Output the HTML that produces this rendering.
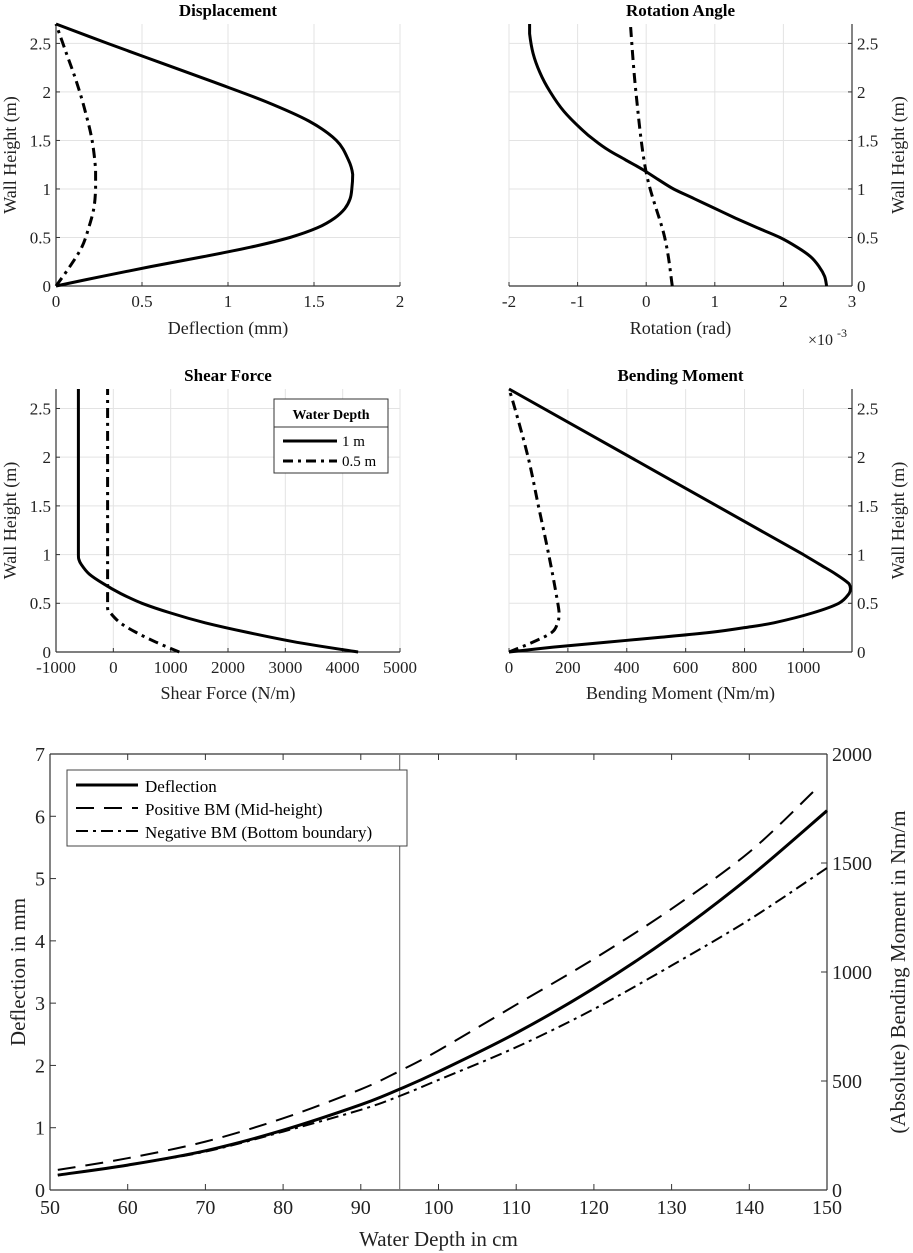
<!DOCTYPE html>
<html><head><meta charset="utf-8">
<style>
body{margin:0;background:#fff;}
svg{display:block;font-family:"Liberation Serif",serif;}
</style></head>
<body>
<svg id="fig" width="913" height="1253" xmlns="http://www.w3.org/2000/svg"></svg>
<script>
// ---- data ----
const dispH = [0,0.1,0.2,0.3,0.4,0.5,0.6,0.7,0.8,0.9,1.0,1.15,1.3,1.5,1.7,1.9,2.1,2.3,2.5,2.7];
const dispD1 = [0,0.27,0.55,0.85,1.13,1.36,1.52,1.62,1.68,1.71,1.72,1.725,1.70,1.63,1.47,1.22,0.92,0.61,0.30,0];
const dispH2 = [0,0.2,0.4,0.6,0.8,1.0,1.2,1.5,1.8,2.1,2.4,2.7];
const dispD2 = [0,0.08,0.15,0.19,0.22,0.23,0.23,0.21,0.17,0.12,0.06,0];
const rotH = [0,0.1,0.2,0.3,0.4,0.5,0.6,0.7,0.8,0.9,1.0,1.1,1.2,1.3,1.4,1.5,1.6,1.8,2.0,2.2,2.4,2.6,2.7];
const rotR1 = [2.63,2.6,2.52,2.4,2.2,1.95,1.62,1.3,1.0,0.7,0.4,0.17,-0.05,-0.3,-0.55,-0.75,-0.92,-1.2,-1.4,-1.55,-1.65,-1.7,-1.7];
const rotH2 = [0,0.5,1.17,2.0,2.7];
const rotR2 = [0.38,0.27,0.0,-0.15,-0.23];
const shH = [0,0.1,0.2,0.3,0.4,0.5,0.6,0.7,0.8,0.9,0.95,1.0,2.7];
const shV1 = [4270,3200,2350,1600,1000,500,130,-170,-420,-560,-600,-610,-610];
const shH2 = [0,0.1,0.2,0.3,0.4,0.45,2.7];
const shV2 = [1150,750,400,120,-50,-100,-100];
const bmH = [0,0.05,0.1,0.15,0.2,0.25,0.3,0.4,0.5,0.6,0.65,0.7,0.8,0.9,1.0,2.7];
const bmV1 = [0,150,330,510,680,800,900,1030,1120,1155,1160,1155,1110,1055,1000,0];
const bmH2 = [0,0.1,0.2,0.3,0.4,0.6,1.0,1.5,2.0,2.5,2.7];
const bmV2 = [0,80,145,165,170,160,135,100,65,20,0];
const depth = [51,60,70,80,90,95,100,110,120,130,140,150];
const deflection = [0.24,0.40,0.63,0.96,1.37,1.62,1.9,2.52,3.24,4.07,5.02,6.09];
const depthBM = [51,60,70,80,90,95,100,110,120,130,140,148.5];
const posBM = [92,146,222,329,462,546,640,850,1060,1290,1550,1836];
const depthNBM = [51,60,70,80,90,95,100,110,120,130,140,150];
const negBM = [69,115,176,268,368,431,505,655,830,1030,1240,1477];
const hTicks = [0,0.5,1,1.5,2,2.5];

const NS='http://www.w3.org/2000/svg';
const svg=document.getElementById('fig');
function el(tag,attrs,parent){const e=document.createElementNS(NS,tag);for(const k in attrs)e.setAttribute(k,attrs[k]);(parent||svg).appendChild(e);return e;}
function txt(s,x,y,attrs,parent){const t=el('text',Object.assign({x:x,y:y},attrs),parent);t.textContent=s;return t;}
function scale(d0,d1,r0,r1){return v=>r0+(v-d0)/(d1-d0)*(r1-r0);}
const DASHDOT='10,5,3,5';

function panel(o){
  const g=el('g',{});
  
  
  const X=scale(o.xmin,o.xmax,o.L,o.R), Y=scale(o.ymin,o.ymax,o.B,o.T);
  if(o.grid){
    o.xt.forEach(v=>el('line',{x1:X(v),x2:X(v),y1:o.T,y2:o.B,stroke:'#e3e3e3','stroke-width':1},g));
    o.yt.forEach(v=>el('line',{x1:o.L,x2:o.R,y1:Y(v),y2:Y(v),stroke:'#e3e3e3','stroke-width':1},g));
  }
  const ax='#333';
  el('line',{x1:o.L,x2:o.R,y1:o.B,y2:o.B,stroke:ax,'stroke-width':1.2},g);
  if(o.box){el('line',{x1:o.L,x2:o.R,y1:o.T,y2:o.T,stroke:ax,'stroke-width':1.2},g);}
  if(o.left||o.box)el('line',{x1:o.L,x2:o.L,y1:o.T,y2:o.B,stroke:ax,'stroke-width':1.2},g);
  if(o.right||o.box)el('line',{x1:o.R,x2:o.R,y1:o.T,y2:o.B,stroke:ax,'stroke-width':1.2},g);
  const tl=o.tickLen||4;
  o.xt.forEach((v,i)=>{
    el('line',{x1:X(v),x2:X(v),y1:o.B,y2:o.B-tl,stroke:ax},g);
    if(o.box)el('line',{x1:X(v),x2:X(v),y1:o.T,y2:o.T+tl,stroke:ax},g);
    const t=txt(o.xtl[i],X(v),o.B+o.fs+4,{'font-size':o.fs,'text-anchor':'middle',fill:'#222'},g);
    
    
  });
  const yside=o.right&&!o.box?'R':'L';
  o.yt.forEach((v,i)=>{
    if(yside==='L'){el('line',{x1:o.L,x2:o.L+tl,y1:Y(v),y2:Y(v),stroke:ax},g);}
    else{el('line',{x1:o.R,x2:o.R-tl,y1:Y(v),y2:Y(v),stroke:ax},g);}
    const t=yside==='L'?txt(o.ytl[i],o.L-5,Y(v)+o.fs*0.35,{'font-size':o.fs,'text-anchor':'end',fill:'#222'},g)
                       :txt(o.ytl[i],o.R+5,Y(v)+o.fs*0.35,{'font-size':o.fs,'text-anchor':'start',fill:'#222'},g);
    
    
  });
  if(o.title){const t=txt(o.title,(o.L+o.R)/2,o.T-8,{'font-size':17,'font-weight':'bold','text-anchor':'middle'},g);
    }
  if(o.xlabel){const t=txt(o.xlabel,(o.L+o.R)/2,o.xlY,{'font-size':o.lfs,'text-anchor':'middle',fill:'#222'},g);
    }
  if(o.ylabel){const cx=o.ylX,cy=(o.T+o.B)/2;const t=txt(o.ylabel,cx,cy,{'font-size':o.lfs,'text-anchor':'middle',fill:'#222',transform:`rotate(-90 ${cx} ${cy})`,'dominant-baseline':'middle'},g);
    }
  return {g,X,Y};
}
function clamp(v,a,b){const lo=Math.min(a,b),hi=Math.max(a,b);return Math.max(lo,Math.min(hi,v));}
function curve(p,xs,ys,dash,w,name,Yf){
  const Yuse=Yf||p.Y;
  const P=xs.map((v,i)=>[p.X(v),Yuse(ys[i])]);
  let d='M'+P[0][0].toFixed(1)+','+P[0][1].toFixed(1);
  for(let i=0;i<P.length-1;i++){
    const p0=P[Math.max(0,i-1)],p1=P[i],p2=P[i+1],p3=P[Math.min(P.length-1,i+2)];
    const c1=[clamp(p1[0]+(p2[0]-p0[0])/6,p1[0],p2[0]),clamp(p1[1]+(p2[1]-p0[1])/6,p1[1],p2[1])];
    const c2=[clamp(p2[0]-(p3[0]-p1[0])/6,p1[0],p2[0]),clamp(p2[1]-(p3[1]-p1[1])/6,p1[1],p2[1])];
    d+='C'+c1[0].toFixed(1)+','+c1[1].toFixed(1)+' '+c2[0].toFixed(1)+','+c2[1].toFixed(1)+' '+p2[0].toFixed(1)+','+p2[1].toFixed(1);
  }
  const a={d:d,fill:'none',stroke:'#000','stroke-width':w,'stroke-linejoin':'round'};
  if(dash)a['stroke-dasharray']=dash;
  const e=el('path',a,p.g);
  
  
}
const hl=hTicks.map(String);

// Panel 1
let p=panel({name:'displacement-panel',L:56,R:400,T:24,B:286,xmin:0,xmax:2,ymin:0,ymax:2.7,grid:true,left:true,
  xt:[0,0.5,1,1.5,2],xtl:['0','0.5','1','1.5','2'],yt:hTicks,ytl:hl,fs:17,lfs:18,title:'Displacement',
  xlabel:'Deflection (mm)',xlY:334,ylabel:'Wall Height (m)',ylX:12});
curve(p,dispD1,dispH,null,3,'deflection-1m');
curve(p,dispD2,dispH2,DASHDOT,3,'deflection-0.5m');

// Panel 2
p=panel({name:'rotation-panel',L:509,R:852,T:24,B:286,xmin:-2,xmax:3,ymin:0,ymax:2.7,grid:true,right:true,
  xt:[-2,-1,0,1,2,3],xtl:['-2','-1','0','1','2','3'],yt:hTicks,ytl:hl,fs:17,lfs:18,title:'Rotation Angle',
  xlabel:'Rotation (rad)',xlY:334,ylabel:'Wall Height (m)',ylX:900});
curve(p,rotR1,rotH,null,3,'rotation-1m');
curve(p,rotR2,rotH2,DASHDOT,3,'rotation-0.5m');
{const t=txt('×10',808,345,{'font-size':16,fill:'#222'});
 const s=txt('-3',837,337,{'font-size':12,fill:'#222'});}

// Panel 3
p=panel({name:'shear-force-panel',L:56,R:400,T:389,B:652,xmin:-1000,xmax:5000,ymin:0,ymax:2.7,grid:true,left:true,
  xt:[-1000,0,1000,2000,3000,4000,5000],xtl:['-1000','0','1000','2000','3000','4000','5000'],yt:hTicks,ytl:hl,fs:17,lfs:18,title:'Shear Force',
  xlabel:'Shear Force (N/m)',xlY:699,ylabel:'Wall Height (m)',ylX:12});
curve(p,shV1,shH,null,3,'shear-1m');
curve(p,shV2,shH2,DASHDOT,3,'shear-0.5m');
{const lg=el('g',{});
 el('rect',{x:274,y:399,width:114,height:74,fill:'#fff',stroke:'#333','stroke-width':1},lg);
 el('line',{x1:274,x2:388,y1:427,y2:427,stroke:'#333'},lg);
 txt('Water Depth',331,419,{'font-size':14,'font-weight':'bold','text-anchor':'middle'},lg);
 const a=el('line',{x1:283,x2:337,y1:441,y2:441,stroke:'#000','stroke-width':3},lg);
 txt('1 m',342,446,{'font-size':15},lg);
 const b=el('line',{x1:283,x2:337,y1:461,y2:461,stroke:'#000','stroke-width':3,'stroke-dasharray':DASHDOT},lg);
 txt('0.5 m',342,466,{'font-size':15},lg);}

// Panel 4
p=panel({name:'bending-moment-panel',L:509,R:852,T:389,B:652,xmin:0,xmax:1165,ymin:0,ymax:2.7,grid:true,right:true,
  xt:[0,200,400,600,800,1000],xtl:['0','200','400','600','800','1000'],yt:hTicks,ytl:hl,fs:17,lfs:18,title:'Bending Moment',
  xlabel:'Bending Moment (Nm/m)',xlY:699,ylabel:'Wall Height (m)',ylX:900});
curve(p,bmV1,bmH,null,3,'bm-1m');
curve(p,bmV2,bmH2,DASHDOT,3,'bm-0.5m');

// Bottom chart
p=panel({name:'depth-chart',L:50,R:827,T:754,B:1190,xmin:50,xmax:150,ymin:0,ymax:7,grid:false,box:true,tickLen:6,
  xt:[50,60,70,80,90,100,110,120,130,140,150],xtl:['50','60','70','80','90','100','110','120','130','140','150'],
  yt:[0,1,2,3,4,5,6,7],ytl:['0','1','2','3','4','5','6','7'],fs:20,lfs:21,
  xlabel:'Water Depth in cm',xlY:1246,ylabel:'Deflection in mm',ylX:20});
const Y2=scale(0,2000,1190,754);
[0,500,1000,1500,2000].forEach(v=>{
  el('line',{x1:827,x2:821,y1:Y2(v),y2:Y2(v),stroke:'#333'},p.g);
  const t=txt(String(v),832,Y2(v)+7,{'font-size':20,fill:'#222'},p.g);
  
});
{const cx=900,cy=972;const t=txt('(Absolute) Bending Moment in Nm/m',cx,cy,{'font-size':21,'text-anchor':'middle',fill:'#222',transform:`rotate(-90 ${cx} ${cy})`,'dominant-baseline':'middle'});
 }
{const v=el('line',{x1:p.X(95),x2:p.X(95),y1:754,y2:1190,stroke:'#777','stroke-width':1.2},p.g);}
curve(p,depth,deflection,null,3,'deflection-line');
curve(p,depthBM,posBM,'18,10',2,'positive-bm-line',Y2);
curve(p,depthNBM,negBM,'12,5,3,5',2,'negative-bm-line',Y2);
{const lg=el('g',{});
 el('rect',{x:67,y:770,width:340,height:76,fill:'#fff',stroke:'#444','stroke-width':1},lg);
 el('line',{x1:76,x2:138,y1:785,y2:785,stroke:'#000','stroke-width':3},lg);
 txt('Deflection',145,792,{'font-size':17},lg);
 el('line',{x1:76,x2:138,y1:808,y2:808,stroke:'#000','stroke-width':2,'stroke-dasharray':'18,10'},lg);
 txt('Positive BM (Mid-height)',145,815,{'font-size':17},lg);
 el('line',{x1:76,x2:138,y1:831,y2:831,stroke:'#000','stroke-width':2,'stroke-dasharray':'12,5,3,5'},lg);
 txt('Negative BM (Bottom boundary)',145,838,{'font-size':17},lg);}
</script>
</body></html>
